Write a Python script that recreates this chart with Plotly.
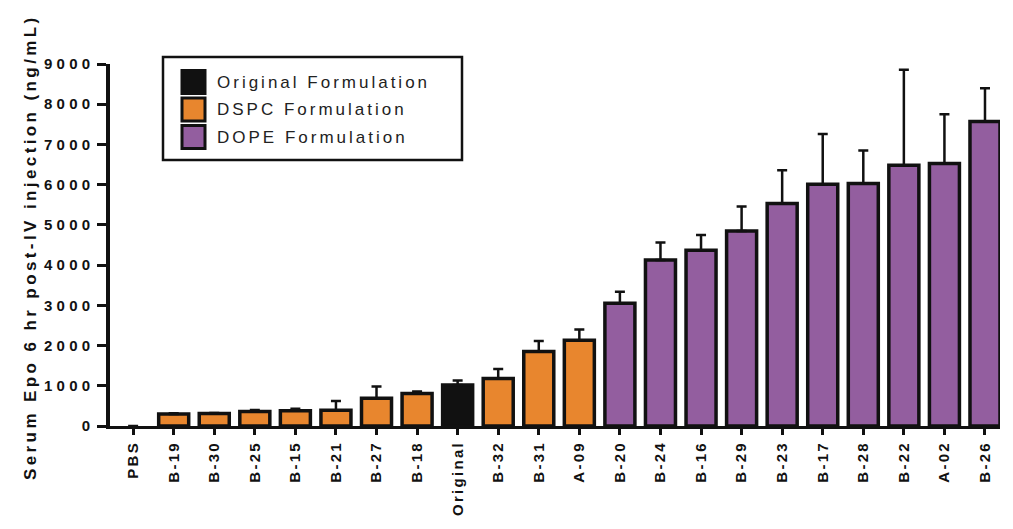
import plotly.graph_objects as go

categories = ["PBS", "B-19", "B-30", "B-25", "B-15", "B-21", "B-27", "B-18", "Original",
              "B-32", "B-31", "A-09", "B-20", "B-24", "B-16", "B-29", "B-23", "B-17",
              "B-28", "B-22", "A-02", "B-26"]

pbs_cat = ["PBS"]
pbs_val = [0]
pbs_err = [0]

orig_cat = ["Original"]
orig_val = [1020]
orig_err = [110]

dspc_cat = ["B-19", "B-30", "B-25", "B-15", "B-21", "B-27", "B-18", "B-32", "B-31", "A-09"]
dspc_val = [300, 310, 360, 380, 390, 690, 810, 1180, 1850, 2130]
dspc_err = [15, 15, 40, 50, 230, 290, 50, 240, 265, 270]

dope_cat = ["B-20", "B-24", "B-16", "B-29", "B-23", "B-17", "B-28", "B-22", "A-02", "B-26"]
dope_val = [3050, 4130, 4370, 4850, 5530, 6010, 6030, 6485, 6525, 7570]
dope_err = [290, 430, 380, 605, 830, 1250, 820, 2370, 1225, 830]

yticks = [0, 1000, 2000, 3000, 4000, 5000, 6000, 7000, 8000, 9000]

legend_names = ["Original Formulation", "DSPC Formulation", "DOPE Formulation"]

BLACK = "#111111"
ORANGE = "#E8862E"
PURPLE = "#935E9F"
legend_colors = [BLACK, ORANGE, PURPLE]

FONT = "Liberation Sans, Arial, sans-serif"


def bar(cat, val, err, color, name, lw=3.5):
    return go.Bar(
        x=cat, y=val, name=name, showlegend=False,
        width=0.74,
        marker=dict(color=color, line=dict(color=BLACK, width=lw)),
        error_y=dict(type="data", symmetric=False, array=err,
                     arrayminus=[0] * len(err), color=BLACK,
                     thickness=2.5, width=5),
    )


fig = go.Figure()
fig.add_trace(bar(orig_cat, orig_val, orig_err, BLACK, legend_names[0]))
fig.add_trace(bar(dspc_cat, dspc_val, dspc_err, ORANGE, legend_names[1]))
fig.add_trace(bar(dope_cat, dope_val, dope_err, PURPLE, legend_names[2]))
fig.add_trace(bar(pbs_cat, pbs_val, pbs_err, ORANGE, "PBS", lw=0))

# plot-area geometry (pixels) used to place the hand-built legend
L, R, T, B = 110, 13, 64, 103
W, H = 1013, 529
PW, PH = W - L - R, H - T - B


def px(x):
    return (x - L) / PW


def py(y):
    return (H - B - y) / PH


shapes = [dict(type="rect", xref="paper", yref="paper",
               x0=px(163), x1=px(462), y0=py(160), y1=py(57),
               line=dict(color=BLACK, width=2.5), fillcolor="white", layer="above")]
annotations = [dict(text="Serum Epo 6 hr post-IV injection (ng/mL)", textangle=-90,
                    xref="paper", yref="paper", x=px(30), y=py(247),
                    xanchor="center", yanchor="middle", showarrow=False,
                    font=dict(size=17, family=FONT, color=BLACK, weight="bold"))]
for i, (name, col) in enumerate(zip(legend_names, legend_colors)):
    cy = 82 + i * 27.5
    shapes.append(dict(type="rect", xref="paper", yref="paper",
                       x0=px(182), x1=px(205), y0=py(cy + 11.5), y1=py(cy - 11.5),
                       line=dict(color=BLACK, width=3), fillcolor=col, layer="above"))
    annotations.append(dict(text=name, xref="paper", yref="paper", x=px(215), y=py(cy),
                            xanchor="left", yanchor="middle", align="left", showarrow=False,
                            font=dict(size=17, family=FONT, color="#222222")))

fig.update_layout(
    width=W, height=H,
    margin=dict(l=L, r=R, t=T, b=B),
    plot_bgcolor="white", paper_bgcolor="white",
    barmode="overlay", showlegend=False,
    font=dict(family=FONT, color=BLACK),
    shapes=shapes, annotations=annotations,
    xaxis=dict(
        type="category", categoryorder="array", categoryarray=categories,
        range=[-0.57, 21.37],
        showline=True, linecolor=BLACK, linewidth=3,
        ticks="outside", ticklen=6, tickwidth=3, tickcolor=BLACK,
        tickangle=-90,
        tickfont=dict(size=15, family=FONT, color=BLACK, weight="bold"),
        showgrid=False, zeroline=False,
    ),
    yaxis=dict(
        range=[0, 9000], tickvals=yticks,
        ticktext=[str(v) for v in yticks],
        showline=True, linecolor=BLACK, linewidth=3.5,
        ticks="outside", ticklen=9, tickwidth=3, tickcolor=BLACK,
        tickfont=dict(size=15, family=FONT, color=BLACK, weight="bold"),
        showgrid=False, zeroline=False,
    ),
)

css_js = """
var st = document.createElement('style');
st.textContent = '.xtick text{letter-spacing:2.3px;}' +
  '.ytick text{letter-spacing:4.2px;}' +
  '.annotation .annotation-text{letter-spacing:3px;}' +
  '.annotation[data-index="0"] .annotation-text{letter-spacing:3.4px;}';
document.head.appendChild(st);
"""

fig.write_html("out.html", post_script=css_js)
